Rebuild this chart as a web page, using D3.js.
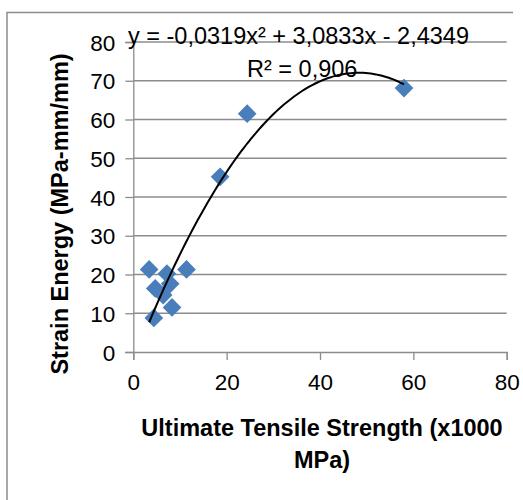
<!DOCTYPE html>
<html>
<head>
<meta charset="utf-8">
<script src="https://cdn.jsdelivr.net/npm/d3@7"></script>
<style>
  body { margin: 0; background: #fff; }
  svg { display: block; font-family: "Liberation Sans", Arial, sans-serif; }
</style>
</head>
<body>
<div id="chart"></div>
<script>
"use strict";

// measured values (x in 1000 MPa, y in MPa-mm/mm)
const tensile = [3.4, 4.4, 4.7, 6.4, 7.2, 7.9, 8.3, 11.4, 18.6, 24.4, 58.0];
const strain  = [21.3, 8.8, 16.4, 14.7, 20.2, 17.6, 11.5, 21.3, 45.2, 61.5, 68.1];
const xTicks = [0, 20, 40, 60, 80];
const yTicks = [0, 10, 20, 30, 40, 50, 60, 70, 80];
// polynomial trend line coefficients (Excel: y = a x^2 + b x + c)
const trendCoef = [-0.0319, 3.0833, -2.4349];
const eqLabel = "y = -0,0319x² + 3,0833x - 2,4349";
const r2Label = "R² = 0,906";

const width = 523, height = 500;
const svg = d3.select("#chart").append("svg")
    .attr("width", width)
    .attr("height", height);

// chart frame
svg.append("path")
   .attr("d", "M7,500 V12.5 H513")
   .attr("fill", "none")
   .attr("stroke", "#8c8c8c")
   .attr("stroke-width", 1.5);

let x = d3.scaleLinear().domain([0, 80]).range([133.3, 506.7]);
let y = d3.scaleLinear().domain([0, 80]).range([352, 42]);

// horizontal gridlines
svg.append("g")
   .selectAll("line")
   .data(yTicks.filter(d => d > 0))
   .join("line")
   .attr("x1", x(0)).attr("x2", x(80))
   .attr("y1", d => y(d)).attr("y2", d => y(d))
   .attr("stroke", "#8c8c8c")
   .attr("stroke-width", 1.3);

// y axis
let yAxis = svg.append("g")
   .attr("transform", "translate(" + x(0) + ",0)")
   .call(d3.axisLeft(y).tickValues(yTicks).tickSize(8).tickPadding(10));
// x axis
let xAxis = svg.append("g")
   .attr("transform", "translate(0," + y(0) + ")")
   .call(d3.axisBottom(x).tickValues(xTicks).tickSize(8).tickPadding(14));

[xAxis, yAxis].forEach(a =>
{
    a.select(".domain").attr("stroke", "#8c8c8c").attr("stroke-width", 1.3);
    a.selectAll(".tick line").attr("stroke", "#8c8c8c").attr("stroke-width", 1.3);
    a.selectAll(".tick text")
     .attr("fill", "#000")
     .style("font-size", "22.5px")
     .style("font-family", "'Liberation Sans', Arial, sans-serif");
});
yAxis.selectAll(".tick text").attr("dy", "0.36em");

// points
let points = tensile.map((v, i) => [v, strain[i]]);
svg.append("g")
   .selectAll("path")
   .data(points)
   .join("path")
   .attr("d", d3.symbol(d3.symbolSquare, 175))
   .attr("transform", d => "translate(" + x(d[0]) + "," + y(d[1]) + ") rotate(45)")
   .attr("fill", "#4a7ebb");

// trend line
let xMin = d3.min(tensile), xMax = d3.max(tensile);
let trend = d3.range(0, 101).map(i =>
{
    let xv = xMin + (xMax - xMin) * i / 100;
    return [xv, trendCoef[0] * xv * xv + trendCoef[1] * xv + trendCoef[2]];
});
let line = d3.line()
             .x(d => x(d[0]))
             .y(d => y(d[1]));
svg.append("path")
   .datum(trend)
   .attr("d", line)
   .attr("fill", "none")
   .attr("stroke", "#000")
   .attr("stroke-width", 2);

// equation labels
svg.append("text")
   .attr("x", 128).attr("y", 44)
   .style("font-size", "23.5px")
   .text(eqLabel);
svg.append("text")
   .attr("x", 247).attr("y", 77)
   .style("font-size", "23.5px")
   .text(r2Label);

// axis titles
svg.append("text")
   .attr("transform", "translate(68,214) rotate(-90)")
   .attr("text-anchor", "middle")
   .style("font-size", "23.5px")
   .style("font-weight", "bold")
   .text("Strain Energy (MPa-mm/mm)");

let xt = svg.append("text")
   .attr("text-anchor", "middle")
   .style("font-size", "23.5px")
   .style("font-weight", "bold");
xt.append("tspan").attr("x", 322).attr("y", 436).text("Ultimate Tensile Strength (x1000");
xt.append("tspan").attr("x", 322).attr("y", 468).text("MPa)");
</script>
</body>
</html>
